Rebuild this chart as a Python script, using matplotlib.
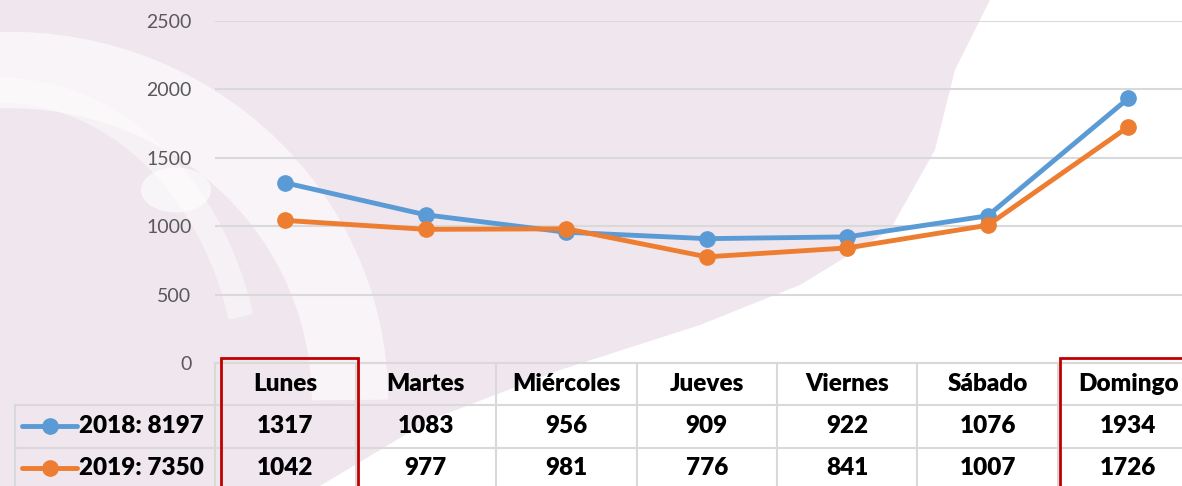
import matplotlib
matplotlib.use("Agg")
import matplotlib.pyplot as plt
from matplotlib.patches import Rectangle, Polygon, Ellipse, Arc
from matplotlib.transforms import blended_transform_factory

# ---- data ----
days = ["Lunes", "Martes", "Miércoles", "Jueves", "Viernes", "Sábado", "Domingo"]
series_labels = ["2018: 8197", "2019: 7350"]
values_2018 = [1317, 1083, 956, 909, 922, 1076, 1934]
values_2019 = [1042, 977, 981, 776, 841, 1007, 1726]
yticks = [0, 500, 1000, 1500, 2000, 2500]

BLUE = "#5B9BD5"
ORANGE = "#ED7D31"
RED = "#C00000"
GRID = "#D9D9D9"

W, H = 1182, 486
fig = plt.figure(figsize=(W / 100, H / 100), dpi=100)
fig.patch.set_facecolor("white")

# ---- background watermark (decorative) ----
def px(x, y):
    return (x / W, 1 - y / H)

pink = "#F0E7EE"
poly_pts = [(0, 0), (990, 0), (955, 70), (935, 150), (890, 230), (800, 285),
            (700, 325), (560, 370), (430, 420), (320, 486), (0, 486)]
fig.patches.append(Polygon([px(*p) for p in poly_pts], closed=True,
                           transform=fig.transFigure, facecolor=pink,
                           edgecolor="none", zorder=-10))
arc = Arc(px(10, 400), 2 * 340 / W, 2 * 330 / H, theta1=0, theta2=95,
          transform=fig.transFigure, color="white", lw=55, alpha=0.55, zorder=-9)
fig.patches.append(arc)
arc2 = Arc(px(0, 400), 2 * 250 / W, 2 * 310 / H, theta1=40, theta2=95,
           transform=fig.transFigure, color="white", lw=18, alpha=0.45, zorder=-9)
fig.patches.append(arc2)
fig.patches.append(Ellipse(px(176, 190), 70 / W, 45 / H, transform=fig.transFigure,
                           facecolor="white", edgecolor="none", alpha=0.6, zorder=-9))

# ---- axes ----
left_px, right_px = 215, 215 + 7 * 140.5
top_px, bot_px = 21, 363
ax = fig.add_axes([left_px / W, 1 - bot_px / H, (right_px - left_px) / W,
                   (bot_px - top_px) / H])
ax.set_zorder(1)
ax.set_facecolor("none")
ax.set_xlim(-0.5, 6.5)
ax.set_ylim(0, 2500)
for s in ax.spines.values():
    s.set_visible(False)
ax.set_xticks([])
ax.set_yticks(yticks)
ax.tick_params(axis="y", length=0, pad=17, labelsize=14, labelcolor="#595959")
for lab in ax.get_yticklabels():
    lab.set_fontfamily("Lato")
ax.yaxis.grid(True, color=GRID, lw=1.5)
ax.set_axisbelow(True)

x = list(range(len(days)))
ax.plot(x, values_2018, color=BLUE, lw=3.5, marker="o", ms=11, zorder=3,
        solid_capstyle="round")
ax.plot(x, values_2019, color=ORANGE, lw=3.5, marker="o", ms=11, zorder=4,
        solid_capstyle="round")

# ---- data table ----
tr = blended_transform_factory(ax.transData, ax.transAxes)
axh = bot_px - top_px
def ay(p):
    return (bot_px - p) / axh

row_lines = [363, 405, 448]
hdr_c, r1_c, r2_c = 384, 426, 468
legend_left = -0.5 - (215 - 15) / 140.5
bottom = ay(500)

ax.plot([-0.5, 7.5], [ay(row_lines[0])] * 2, transform=tr, color=GRID, lw=1.5,
        clip_on=False, zorder=1)
for r in row_lines[1:]:
    ax.plot([legend_left, 7.5], [ay(r)] * 2, transform=tr, color=GRID, lw=1.5,
            clip_on=False, zorder=1)
for k in range(8):
    ax.plot([k - 0.5] * 2, [ay(row_lines[0]), bottom], transform=tr, color=GRID,
            lw=1.5, clip_on=False, zorder=1)
ax.plot([legend_left] * 2, [ay(row_lines[1]), bottom], transform=tr, color=GRID,
        lw=1.5, clip_on=False, zorder=1)

FS = 17.5
tfont = dict(fontfamily="Lato", fontweight="heavy", fontsize=FS, color="black",
             ha="center", va="center", transform=tr, clip_on=False)
for i, d in enumerate(days):
    ax.text(i, ay(hdr_c), d, **tfont)
    ax.text(i, ay(r1_c), str(values_2018[i]), **tfont)
    ax.text(i, ay(r2_c), str(values_2019[i]), **tfont)

for yc, col, lab in [(r1_c, BLUE, series_labels[0]), (r2_c, ORANGE, series_labels[1])]:
    xl0 = -0.5 - (215 - 22) / 140.5
    xl1 = -0.5 - (215 - 77) / 140.5
    ax.plot([xl0, xl1], [ay(yc)] * 2, transform=tr, color=col, lw=3.5,
            clip_on=False, solid_capstyle="round", zorder=3)
    ax.plot([(xl0 + xl1) / 2], [ay(yc)], transform=tr, color=col, marker="o",
            ms=11, clip_on=False, zorder=3)
    ax.text(-0.5 - (215 - 79) / 140.5, ay(yc), lab, fontfamily="Lato",
            fontweight="heavy", fontsize=FS, color="black", ha="left",
            va="center", transform=tr, clip_on=False)

box_top = ay(358)
ax.add_patch(Rectangle((-0.5 + 6 / 140.5, bottom), (358 - 221) / 140.5,
                       box_top - bottom, transform=tr, fill=False, edgecolor=RED,
                       lw=2, clip_on=False, zorder=5))
ax.add_patch(Rectangle((-0.5 + 845 / 140.5, bottom), 2.0, box_top - bottom,
                       transform=tr, fill=False, edgecolor=RED, lw=2,
                       clip_on=False, zorder=5))

fig.savefig("out.png", dpi=100, facecolor=fig.get_facecolor())
